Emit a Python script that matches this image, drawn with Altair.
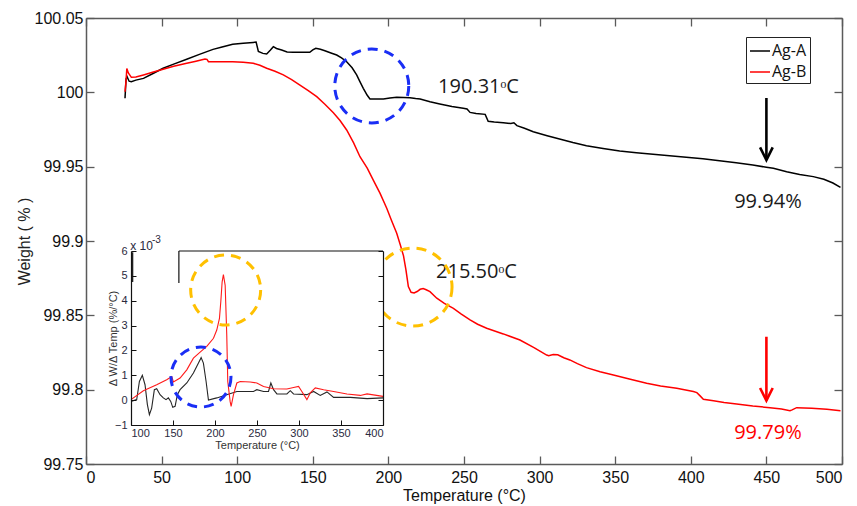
import altair as alt
import pandas as pd

# ---------------- main TGA curves ----------------
a_T = [25.8, 26.5, 27.2, 28.5, 30, 33, 38, 44, 51, 58, 66.6, 75, 84, 90, 97, 104, 110.6, 112.5,
       114, 117, 119.5, 122, 123.9, 126, 129.4, 133, 137, 142, 148, 150, 152, 155, 158, 162,
       165.8, 169, 172.4, 176, 179, 181, 183.4, 186, 187.8, 192, 196.7, 201, 205.5, 210, 214.3,
       218, 221, 227.5, 234, 242, 249.5, 252, 254, 258, 264, 266, 270, 276, 281, 283, 285, 290,
       295.8, 305, 315.7, 322, 331, 342, 353, 364, 375, 386, 397, 408, 419, 430, 441, 450, 454.6,
       463.4, 472, 481, 488, 494, 499]
a_W = [99.996, 100.009, 100.0105, 100.0075, 100.0072, 100.0082, 100.0094, 100.0125, 100.0162,
       100.0190, 100.0222, 100.0255, 100.0289, 100.0305, 100.0323, 100.0330, 100.0336, 100.0338,
       100.0275, 100.0262, 100.0258, 100.0285, 100.0307, 100.0295, 100.0285, 100.0272, 100.0269,
       100.0270, 100.0269, 100.0285, 100.0296, 100.0290, 100.0280, 100.0265, 100.0251, 100.0232,
       100.0206, 100.0165, 100.0117, 100.0075, 100.0027, 99.9980, 99.9955, 99.9955, 99.9955,
       99.9962, 99.9967, 99.9966, 99.9964, 99.9958, 99.9955, 99.9937, 99.9922, 99.9905, 99.9893,
       99.9888, 99.9865, 99.9858, 99.9852, 99.9805, 99.9800, 99.9795, 99.9790, 99.9795, 99.9776,
       99.9758, 99.9735, 99.9708, 99.9679, 99.9662, 99.9641, 99.9622, 99.9605, 99.9594, 99.9583,
       99.9574, 99.9563, 99.9553, 99.9540, 99.9526, 99.9511, 99.9496, 99.9489, 99.9466, 99.9448,
       99.9433, 99.9415, 99.9390, 99.9361]

b_T = [25.8, 26.5, 27, 28, 30, 33, 38, 44, 51, 58, 66.6, 72, 78.7, 80, 81, 88, 97, 104, 110.6,
       115, 119.5, 125, 130.5, 136, 141.5, 147, 152.6, 158, 163.6, 168, 172.4, 177, 181.2, 186,
       190, 194.5, 198.9, 202, 205.5, 208, 210, 211.6, 213.2, 215, 217, 219, 221, 223, 225, 227.5,
       232, 237, 243, 248, 254, 259, 265, 276, 287, 296, 304.7, 306, 309, 312, 316, 320, 325, 331,
       340, 348.8, 360, 370.8, 380, 390.7, 401.7, 404, 406, 408.3, 415, 422, 430.3, 441, 452.4,
       460, 465.6, 467, 470, 480, 490, 499]
b_W = [100.0004, 100.008, 100.0160, 100.013, 100.0101, 100.0103, 100.0117, 100.0135, 100.0155,
       100.0175, 100.0195, 100.0208, 100.0224, 100.0222, 100.0206, 100.0206, 100.0206, 100.0203,
       100.0195, 100.0182, 100.0162, 100.0142, 100.0117, 100.0085, 100.0049, 100.0012, 99.9971,
       99.9920, 99.9863, 99.9810, 99.9747, 99.9660, 99.9567, 99.9490, 99.9410, 99.9320, 99.9220,
       99.9140, 99.9052, 99.8970, 99.8900, 99.8805, 99.8693, 99.8655, 99.8650, 99.8660, 99.8675,
       99.8680, 99.8672, 99.8659, 99.8615, 99.8580, 99.8547, 99.8510, 99.8469, 99.8440, 99.8413,
       99.8375, 99.8334, 99.8285, 99.8233, 99.8228, 99.8236, 99.8235, 99.8215, 99.8200, 99.8175,
       99.8148, 99.8120, 99.8099, 99.8070, 99.8043, 99.8025, 99.8009, 99.7987, 99.7980, 99.7960,
       99.7935, 99.7925, 99.7913, 99.7904, 99.7890, 99.7879, 99.7870, 99.7859, 99.7864, 99.7879,
       99.7875, 99.7868, 99.7859]

# ---------------- inset DTG curves (x 10^-3) ----------------
ia_T = [100, 106.8, 110, 113.5, 116.7, 119.5, 121.9, 124.6, 127.8, 130.6, 134.6, 138.5, 141.7,
        144.5, 147.3, 149.7, 152.5, 155.2, 158.4, 166.4, 174.3, 180.3, 183.5, 186.2, 189.4, 192.2,
        202.1, 214, 226, 237.9, 245.8, 249.8, 257.8, 263.7, 266.5, 269.7, 273.7, 285.6, 289.6,
        293.5, 309.4, 317.4, 325.3, 333.3, 341.2, 361.1, 381, 400]
ia_D = [-0.05, 0.02, 0.75, 1.0, 0.62, -0.18, -0.58, -0.32, 0.42, 0.46, 0.22, 0.09, 0.02, 0.09,
        -0.05, -0.29, -0.25, 0.22, 0.42, 0.69, 1.09, 1.49, 1.71, 1.49, 0.75, 0.0, 0.09, 0.22, 0.35,
        0.35, 0.35, 0.42, 0.35, 0.35, 0.69, 0.42, 0.25, 0.25, 0.38, 0.25, 0.22, 0.35, 0.19, 0.33,
        0.11, 0.11, 0.06, 0.09]
ib_T = [100, 114.7, 130.6, 142.5, 148.5, 150.5, 158.4, 166.4, 174.3, 182.3, 190.2, 198.2, 202.1,
        205.3, 206.9, 208.5, 210, 212.1, 214, 215.2, 218, 219.2, 222, 226, 230, 241.9, 249.8,
        257.8, 269.7, 285.6, 293.5, 299.5, 303.4, 309.4, 313.4, 319.4, 329.3, 341.2, 357.1, 373,
        381, 400]
ib_D = [0.02, 0.38, 0.62, 0.82, 0.95, 0.73, 0.89, 1.22, 1.69, 1.93, 2.16, 2.49, 2.82, 3.29, 3.96,
        4.76, 5.05, 4.62, 2.62, 0.75, -0.05, -0.25, 0.22, 0.69, 0.75, 0.73, 0.69, 0.55, 0.46, 0.45,
        0.51, 0.55, 0.35, 0.02, 0.29, 0.49, 0.42, 0.35, 0.25, 0.19, 0.25, 0.15]

# ---------------- annotations ----------------
ann_T = [259.6, 258.2, 451, 451]
ann_W = [100.0036, 99.8792, 99.9262, 99.771]
ann_text = ["190.31ᵒC", "215.50ᵒC", "99.94%", "99.79%"]
ann_col = ["#1a1a1a", "#1a1a1a", "#1a1a1a", "#ff0000"]

arrow_T = [450, 450]
arrow_top = [99.9962, 99.8356]
arrow_tip = [99.9545, 99.7926]
arrow_col = ["#000000", "#ff0000"]

circ_T = [189, 216.3]
circ_W = [100.0043, 99.869]
circ_size = [5476, 6084]
circ_col = ["#1a2ef5", "#ffc000"]

icirc_T = [212.7, 183.3]
icirc_D = [4.43, 0.93]
icirc_size = [4900, 3600]
icirc_col = ["#ffc000", "#1a2ef5"]

x_ticks = [0, 50, 100, 150, 200, 250, 300, 350, 400, 450, 500]
y_ticks = [99.75, 99.8, 99.85, 99.9, 99.95, 100, 100.05]
ix_ticks = [100, 150, 200, 250, 300, 350, 400]
iy_ticks = [-1, 0, 1, 2, 3, 4, 5, 6]

W, H = 756, 446
FRAME = "#5a5a5a"
LAB = "Liberation Sans"
ANN = "Open Sans"


def mx():
    return alt.Scale(domain=[0, 500], nice=False, zero=False)


def my():
    return alt.Scale(domain=[99.75, 100.05], nice=False, zero=False)


def ix():
    return alt.Scale(domain=[100, 400], range=[45, 297], nice=False, zero=False)


def iy():
    return alt.Scale(domain=[-1, 6], range=[407, 233], nice=False, zero=False)


def tick_axis(orient, offset, values, color=FRAME, size=8, domain=False, width=1.3):
    return alt.Axis(orient=orient, offset=offset, values=values, labels=False, ticks=True,
                    tickSize=size, tickColor=color, tickWidth=width, domain=domain,
                    domainColor=color, domainWidth=1.5 if color == FRAME else 1.2,
                    title=None, grid=False, zindex=1)


main_df = pd.concat([
    pd.DataFrame({"T": a_T, "W": a_W, "s": "Ag-A"}),
    pd.DataFrame({"T": b_T, "W": b_W, "s": "Ag-B"}),
], ignore_index=True)
main_df["o"] = range(len(main_df))

lines = alt.Chart(main_df).mark_line(strokeWidth=1.5).encode(
    x=alt.X("T:Q", scale=mx(), axis=alt.Axis(
        orient="bottom", values=x_ticks, format="d", ticks=False, tickSize=0, labelPadding=5,
        labelFont=LAB, labelFontSize=16, labelColor="#111", domainColor=FRAME, domainWidth=1.5,
        grid=False, zindex=1, title="Temperature (°C)", titleFont=LAB, titleFontSize=16,
        titleFontWeight="normal", titleColor="#111", titleY=31, titleBaseline="middle")),
    y=alt.Y("W:Q", scale=my(), axis=alt.Axis(
        orient="left", values=y_ticks, format="~g", ticks=False, tickSize=0, labelPadding=3,
        labelFont=LAB, labelFontSize=16, labelColor="#111", domainColor=FRAME, domainWidth=1.5,
        grid=False, zindex=1, title="Weight ( % )", titleFont=LAB, titleFontSize=16,
        titleFontWeight="normal", titleColor="#222", titleX=-62, titleY=223,
        titleBaseline="middle", titleAlign="center")),
    color=alt.Color("s:N", scale=alt.Scale(domain=["Ag-A", "Ag-B"], range=["#000000", "#ff0000"]),
                    legend=alt.Legend(orient="none", legendX=660, legendY=19, title=None,
                                      symbolType="stroke", symbolSize=400, symbolStrokeWidth=1.5,
                                      labelFont=ANN, labelFontSize=16, labelColor="#111",
                                      labelOffset=1, strokeColor="#222", fillColor="white",
                                      padding=3, rowPadding=2)),
    order="o:Q",
)

ann_df = pd.DataFrame({"T": ann_T, "W": ann_W, "t": ann_text, "c": ann_col})
texts = alt.Chart(ann_df).mark_text(font=ANN, fontSize=20, align="center", baseline="middle").encode(
    x=alt.X("T:Q", scale=mx(), axis=tick_axis("top", -H, x_ticks)),
    y=alt.Y("W:Q", scale=my(), axis=tick_axis("right", -W, y_ticks)),
    text="t:N",
    color=alt.Color("c:N", scale=None),
)

arr_df = pd.DataFrame({"T": arrow_T, "y1": arrow_top, "y2": arrow_tip, "c": arrow_col})
arrows = alt.Chart(arr_df).mark_rule(strokeWidth=2.6).encode(
    x=alt.X("T:Q", scale=mx(), axis=tick_axis("bottom", -H, x_ticks, domain=True)),
    y=alt.Y("y1:Q", scale=my(), axis=tick_axis("left", -W, y_ticks, domain=True)),
    y2="y2:Q",
    color=alt.Color("c:N", scale=None),
)
heads = alt.Chart(arr_df).mark_point(shape="M-1,-2L0,0L1,-2", filled=False, strokeWidth=2.6,
                                     size=160, opacity=1).encode(
    x=alt.X("T:Q", scale=mx(), axis=None),
    y=alt.Y("y2:Q", scale=my(), axis=None),
    color=alt.Color("c:N", scale=None),
)

circ_df = pd.DataFrame({"T": circ_T, "W": circ_W, "sz": circ_size, "c": circ_col})
circles = alt.Chart(circ_df).mark_point(shape="circle", filled=False, strokeWidth=3,
                                        strokeDash=[10, 7], opacity=1).encode(
    x=alt.X("T:Q", scale=mx(), axis=None),
    y=alt.Y("W:Q", scale=my(), axis=None),
    size=alt.Size("sz:Q", scale=None),
    color=alt.Color("c:N", scale=None),
)

# ---------------- inset ----------------
bg_df = pd.DataFrame({"x1": [100], "x2": [400], "y1": [-1], "y2": [6]})
ilab = dict(labelFont=LAB, labelFontSize=11, labelColor="#2a2a3e", grid=False, zindex=1,
            domainColor="#111", domainWidth=1.2, titleFont=LAB, titleFontSize=11,
            titleFontWeight="normal", titleColor="#333")
inset_bg = alt.Chart(bg_df).mark_rect(fill="white").encode(
    x=alt.X("x1:Q", scale=ix(), axis=alt.Axis(
        orient="bottom", offset=-(H - 407), values=ix_ticks, format="d", ticks=False, tickSize=0,
        labelPadding=2, title="Temperature (°C)", titleY=20, titleBaseline="middle", **ilab)),
    x2="x2:Q",
    y=alt.Y("y1:Q", scale=iy(), axis=alt.Axis(
        orient="left", offset=-45, values=iy_ticks, format="d", ticks=False, tickSize=0,
        labelPadding=4, title="Δ W/Δ Temp (%/°C)", titleX=-18, titleY=320,
        titleBaseline="middle", titleAlign="center", **ilab)),
    y2="y2:Q",
)

ins_df = pd.concat([
    pd.DataFrame({"T": ia_T, "D": ia_D, "s": "A", "c": "#262626"}),
    pd.DataFrame({"T": ib_T, "D": ib_D, "s": "B", "c": "#ff1a1a"}),
], ignore_index=True)
ins_df["o"] = range(len(ins_df))
inset_lines = alt.Chart(ins_df).mark_line(strokeWidth=1.1).encode(
    x=alt.X("T:Q", scale=ix(), axis=tick_axis("top", -407, ix_ticks, color="#111", size=5, width=1)),
    y=alt.Y("D:Q", scale=iy(), axis=tick_axis("right", -(W - 45), iy_ticks, color="#111", size=5, width=1)),
    detail="s:N",
    color=alt.Color("c:N", scale=None),
    order="o:Q",
)

# partial top border and stray vertical marks of the inset frame
frame_df = pd.DataFrame({"x1": [157, 157, 102], "x2": [400, 157, 102],
                         "y1": [6, 6, 5.95], "y2": [6, 4.71, 4.75]})
inset_frame = alt.Chart(frame_df).mark_rule(strokeWidth=1.2, color="#111").encode(
    x=alt.X("x1:Q", scale=ix(), axis=None),
    x2="x2:Q",
    y=alt.Y("y1:Q", scale=iy(), axis=tick_axis("left", -297, iy_ticks, color="#111", size=5,
                                               domain=True, width=1)),
    y2="y2:Q",
)

icirc_df = pd.DataFrame({"T": icirc_T, "D": icirc_D, "sz": icirc_size, "c": icirc_col})
inset_circles = alt.Chart(icirc_df).mark_point(shape="circle", filled=False, strokeWidth=3,
                                               strokeDash=[10, 7], opacity=1).encode(
    x=alt.X("T:Q", scale=ix(), axis=None),
    y=alt.Y("D:Q", scale=iy(), axis=None),
    size=alt.Size("sz:Q", scale=None),
    color=alt.Color("c:N", scale=None),
)

exp_df = pd.DataFrame({"T": [99, 125], "D": [6.2, 6.45], "t": ["x 10", "-3"], "fs": [12, 10]})
inset_exp = alt.Chart(exp_df).mark_text(font=LAB, align="left", baseline="middle",
                                        color="#2a2a3e").encode(
    x=alt.X("T:Q", scale=ix(), axis=None),
    y=alt.Y("D:Q", scale=iy(), axis=None),
    text="t:N",
    size=alt.Size("fs:Q", scale=None),
)

chart = alt.layer(
    lines, texts, arrows, heads, circles,
    inset_bg, inset_lines, inset_frame, inset_circles, inset_exp,
).resolve_scale(
    x="independent", y="independent"
).properties(
    width=W, height=H,
    padding={"left": 86, "top": 18, "right": 15, "bottom": 42},
    autosize=alt.AutoSizeParams(type="none"),
    background="white",
).configure_view(stroke=None)

chart.save("out.html", embed_options={"renderer": "svg", "actions": False})
